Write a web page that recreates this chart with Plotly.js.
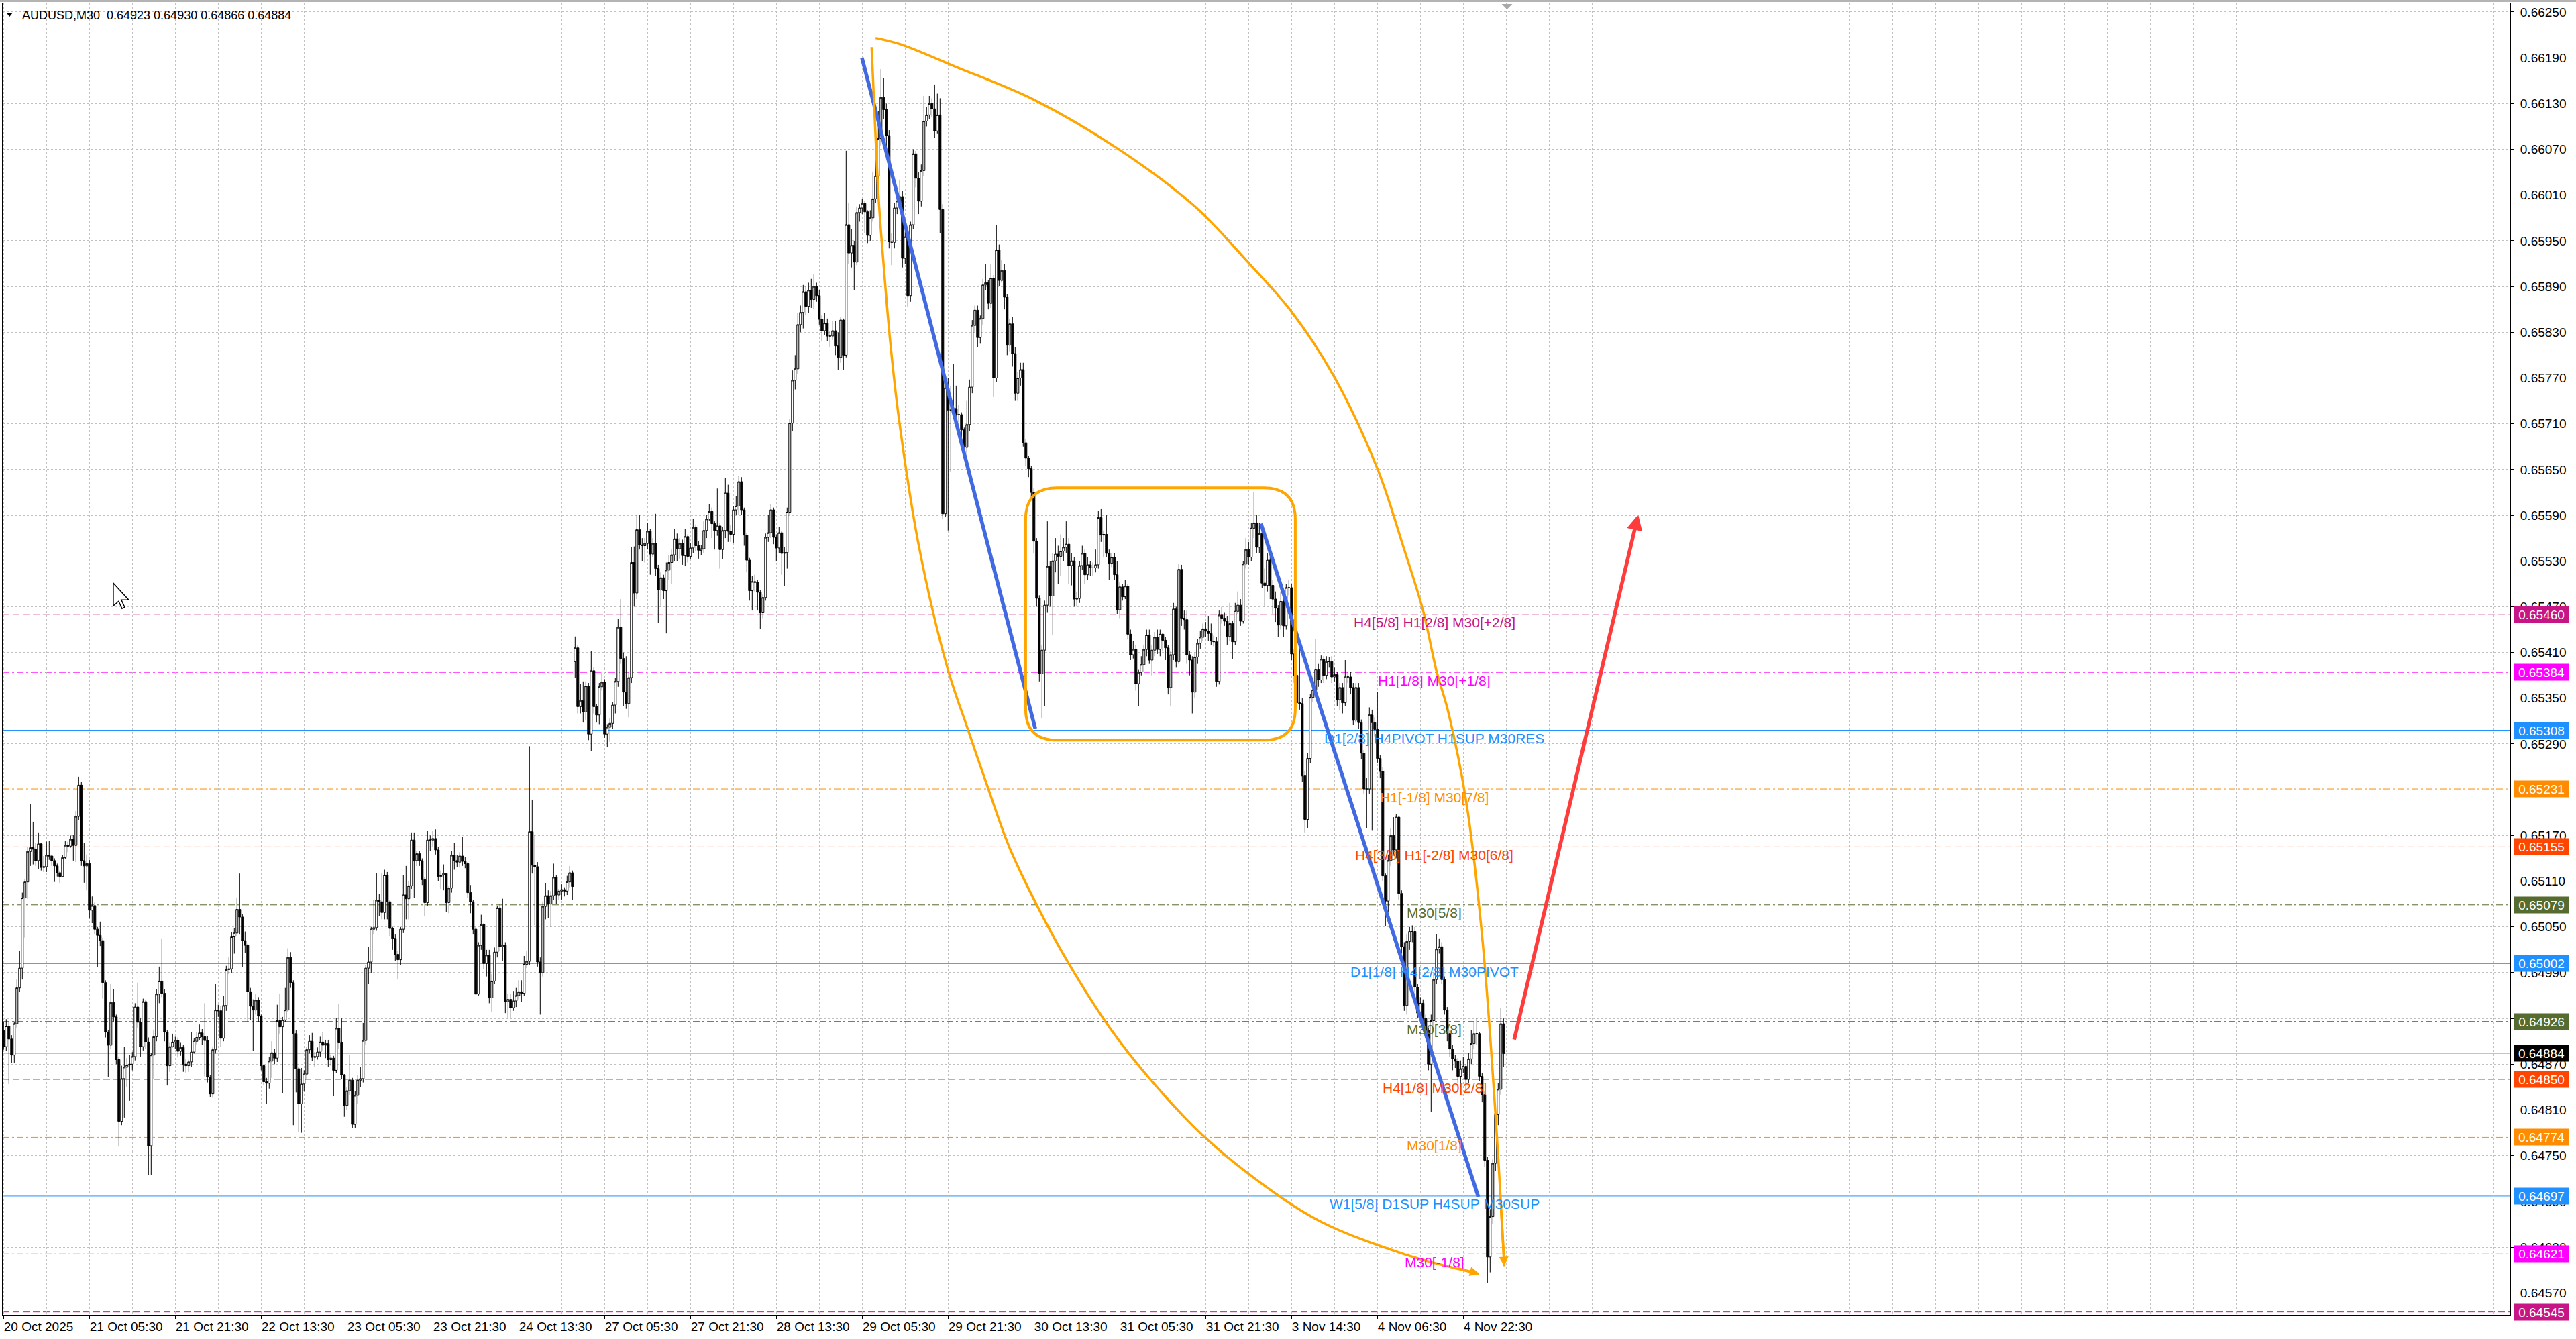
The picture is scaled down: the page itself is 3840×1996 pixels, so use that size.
<!DOCTYPE html>
<html><head><meta charset="utf-8">
<script src="https://cdn.plot.ly/plotly-3.0.1.min.js"></script>
<style>html,body{margin:0;padding:0;background:#fff;overflow:hidden}#chart{width:3840px;height:1996px}</style>
</head><body><div id="chart"></div>
<script>
// ---- data (prices in points above 0.60000, 1 point = 0.00001) ----
const SYMBOL = 'AUDUSD,M30';
const PRICE_BASE = 0.6;
const POINT = 0.00001;

const openPts = [
4914,4893,4920,4903,4882,4923,4970,4996,5088,5109,5149,5154,5152,5137,5159,5128,5129,5144,5143,5137,
5130,5121,5116,5141,5157,5156,5165,5157,5195,5236,5137,5130,5133,5072,5078,5047,5039,5032,4977,4912,
4895,4951,4932,4876,4795,4851,4866,4869,4870,4880,4945,4925,4893,4952,4899,4763,4882,4906,4962,4979,
4963,4912,4868,4893,4899,4901,4887,4892,4870,4868,4873,4886,4900,4905,4911,4906,4901,4853,4831,4889,
4941,4940,4904,4947,4994,4995,5037,5042,5073,5063,5032,5026,4965,4946,4941,4954,4933,4868,4847,4845,
4874,4885,4878,4927,4919,4928,4941,5010,4977,4910,4864,4818,4844,4857,4889,4900,4879,4880,4886,4899,
4895,4897,4876,4878,4862,4917,4898,4856,4816,4835,4849,4791,4829,4849,4851,4901,4996,5004,5047,5049,
5085,5083,5069,5118,5083,5048,5035,5014,5007,5047,5092,5087,5104,5164,5137,5146,5137,5112,5082,5164,
5164,5166,5151,5116,5118,5120,5082,5101,5144,5137,5135,5143,5136,5133,5095,5083,5047,4962,5026,5053,
5002,5013,4957,4979,5017,5075,5024,5026,4952,4955,4944,4953,4960,4965,4963,5001,5005,5175,5131,5129,
5004,4990,5077,5091,5080,5091,5115,5092,5097,5099,5097,5109,5121,5398,5416,5339,5347,5332,5366,5303,
5386,5339,5328,5365,5371,5303,5312,5317,5341,5372,5443,5402,5358,5343,5377,5528,5488,5571,5551,5550,
5553,5569,5539,5553,5520,5492,5508,5491,5518,5528,5538,5559,5546,5553,5537,5562,5536,5547,5574,5550,
5544,5546,5570,5585,5595,5579,5570,5576,5545,5570,5619,5569,5565,5597,5602,5634,5597,5564,5531,5491,
5503,5502,5489,5462,5482,5561,5567,5597,5561,5547,5567,5540,5541,5594,5711,5767,5782,5840,5856,5883,
5864,5885,5873,5890,5878,5847,5832,5842,5825,5825,5832,5812,5797,5846,5800,5971,5934,5944,5922,5987,
5993,5999,5988,5957,5980,6005,6035,6084,6138,6122,6088,5949,5948,5993,6002,6008,5927,5955,5878,5971,
6064,6032,6002,6042,6107,6115,6130,6123,6094,6115,5991,5592,5757,5728,5728,5730,5722,5722,5702,5679,
5709,5758,5839,5859,5823,5848,5892,5895,5868,5901,5770,5938,5898,5911,5876,5813,5841,5802,5750,5770,
5781,5685,5665,5651,5620,5556,5481,5382,5413,5472,5523,5484,5530,5539,5536,5543,5548,5552,5524,5530,
5480,5481,5524,5540,5512,5525,5521,5521,5525,5587,5564,5565,5540,5527,5535,5512,5466,5496,5483,5497,
5434,5407,5414,5369,5384,5394,5414,5433,5400,5413,5430,5414,5434,5426,5416,5364,5407,5467,5398,5519,
5455,5453,5407,5400,5358,5404,5422,5430,5441,5438,5435,5425,5424,5372,5459,5455,5451,5431,5448,5424,
5464,5472,5451,5526,5545,5535,5573,5580,5548,5566,5501,5498,5531,5498,5480,5468,5446,5477,5445,5495,
5495,5408,5380,5344,5343,5248,5191,5271,5351,5361,5388,5374,5401,5380,5398,5398,5378,5381,5348,5364,
5344,5378,5378,5364,5321,5364,5318,5278,5231,5231,5328,5318,5309,5271,5254,5117,5084,5137,5170,5151,
5194,5094,5024,4947,5031,5044,5044,4971,4937,4950,4930,4914,4870,4927,4981,5021,5024,4981,4941,4910,
4890,4877,4874,4854,4864,4867,4850,4877,4897,4910,4910,4854,4830,4744,4617,4670,4740,4804,4837,4923];

const highPts = [
4925,4929,4925,4908,4926,4981,5019,5095,5113,5155,5211,5188,5160,5174,5160,5143,5162,5163,5145,5140,
5133,5124,5144,5163,5162,5170,5171,5202,5247,5240,5160,5145,5138,5090,5082,5050,5057,5036,4980,4915,
4975,4968,4935,4880,4868,4893,4878,4882,4886,4950,4977,4930,4956,4955,4905,4885,4915,4968,4998,5034,
4968,4915,4898,4910,4906,4905,4898,4895,4877,4876,4912,4904,4912,4922,4916,4950,4907,4856,4892,4975,
4948,4946,4960,4999,5011,5043,5048,5088,5120,5067,5044,5028,4970,4955,4962,4958,4935,4870,4852,4880,
4900,4890,4948,4962,4932,4970,5022,5017,4980,4915,4866,4865,4862,4893,4908,4911,4886,4892,4906,4912,
4902,4902,4883,4881,4931,4949,4930,4857,4840,4882,4852,4835,4856,4866,4924,5000,5024,5050,5085,5121,
5093,5120,5125,5122,5085,5050,5040,5018,5050,5118,5130,5110,5174,5174,5150,5150,5140,5115,5176,5170,
5176,5178,5155,5124,5132,5120,5104,5150,5160,5144,5148,5168,5142,5135,5105,5085,5050,5030,5066,5055,
5020,5020,4988,5023,5078,5080,5087,5030,4962,4962,4966,4970,4980,4980,5012,5018,5287,5217,5170,5135,
5010,5083,5107,5098,5097,5133,5118,5100,5106,5102,5117,5130,5124,5431,5420,5369,5372,5372,5370,5412,
5390,5342,5370,5384,5375,5316,5324,5345,5377,5454,5480,5410,5405,5384,5548,5549,5590,5590,5560,5560,
5580,5572,5560,5592,5525,5515,5512,5528,5538,5545,5572,5566,5560,5558,5572,5565,5554,5585,5578,5556,
5551,5582,5590,5605,5600,5582,5625,5580,5575,5639,5630,5577,5602,5615,5642,5640,5600,5567,5534,5510,
5512,5505,5492,5486,5566,5590,5605,5600,5565,5575,5570,5548,5600,5716,5780,5800,5855,5865,5892,5890,
5895,5900,5906,5895,5885,5852,5855,5848,5832,5845,5845,5830,5850,5848,6068,6000,5965,5950,5995,5998,
6005,6002,5990,5990,6040,6065,6120,6175,6163,6130,6095,5960,6000,6010,6030,6015,5962,5960,5975,6070,
6068,6040,6050,6140,6125,6140,6137,6155,6143,6137,5998,5765,5770,5760,5788,5760,5735,5725,5705,5740,
5768,5846,5865,5865,5852,5900,5920,5898,5920,5905,5971,5945,5925,5920,5880,5848,5850,5810,5778,5790,
5790,5690,5668,5655,5625,5560,5485,5420,5478,5582,5530,5540,5560,5550,5565,5560,5582,5560,5540,5535,
5490,5530,5550,5545,5535,5530,5528,5545,5596,5598,5570,5590,5545,5540,5540,5530,5502,5500,5505,5500,
5440,5425,5420,5388,5405,5420,5440,5440,5420,5437,5440,5440,5436,5430,5420,5412,5475,5470,5526,5525,
5465,5465,5412,5405,5410,5428,5438,5448,5450,5458,5448,5432,5430,5465,5470,5462,5458,5475,5452,5475,
5490,5480,5530,5560,5555,5580,5621,5590,5580,5570,5520,5540,5535,5505,5490,5472,5490,5480,5500,5505,
5500,5415,5395,5415,5350,5255,5278,5356,5370,5428,5395,5406,5405,5405,5404,5405,5390,5385,5370,5370,
5400,5385,5385,5370,5370,5370,5322,5282,5245,5338,5335,5325,5358,5275,5260,5120,5145,5180,5194,5198,
5196,5098,5030,5040,5050,5052,5050,4975,4958,4955,4935,4918,4935,4990,5041,5035,5030,4985,4945,4915,
4895,4882,4878,4875,4880,4870,4885,4915,4925,4930,4912,4858,4835,4748,4680,4745,4810,4845,4944,4930];

const lowPts = [
4889,4887,4844,4872,4872,4918,4965,4981,5036,5087,5130,5132,5130,5126,5124,5122,5122,5138,5130,5109,
5116,5107,5115,5139,5148,5154,5137,5135,5190,5130,5108,5098,5061,5055,5040,4997,5025,4956,4905,4853,
4890,4925,4870,4762,4790,4800,4840,4822,4862,4875,4918,4880,4888,4890,4725,4725,4850,4900,4950,4958,
4900,4842,4860,4892,4890,4880,4881,4860,4859,4860,4866,4884,4896,4902,4895,4854,4846,4827,4826,4884,
4932,4893,4900,4940,4988,4990,5015,5038,5040,4997,5016,4925,4928,4887,4935,4925,4862,4842,4818,4838,
4852,4870,4873,4910,4832,4925,4938,4970,4790,4833,4781,4780,4834,4850,4884,4874,4866,4876,4880,4888,
4878,4866,4868,4828,4858,4890,4850,4801,4810,4830,4786,4786,4818,4840,4846,4896,4975,4990,5040,5045,
5064,5060,5060,5060,5038,5020,5005,4981,5000,5042,5060,5060,5100,5088,5130,5130,5105,5064,5078,5150,
5155,5145,5110,5100,5098,5070,5068,5095,5125,5129,5128,5130,5127,5088,5068,5040,4962,4960,5020,4995,
4985,4950,4939,4975,5010,5018,5005,4937,4930,4930,4940,4945,4955,4952,4960,4996,5000,5120,5052,4998,
4935,4985,5060,5062,5050,5085,5080,5085,5085,5090,5092,5102,5085,5377,5330,5330,5318,5322,5295,5281,
5330,5318,5316,5360,5298,5286,5293,5310,5330,5365,5395,5340,5336,5325,5370,5470,5480,5545,5530,5528,
5545,5512,5535,5510,5449,5470,5480,5435,5505,5500,5530,5530,5533,5525,5524,5528,5532,5540,5543,5533,
5538,5540,5560,5583,5560,5545,5563,5520,5532,5560,5555,5555,5554,5590,5590,5590,5550,5515,5478,5465,
5490,5465,5441,5455,5478,5555,5560,5552,5530,5540,5512,5497,5520,5590,5700,5755,5775,5830,5835,5852,
5855,5862,5860,5870,5840,5818,5826,5818,5810,5820,5800,5781,5790,5781,5797,5920,5915,5885,5918,5975,
5985,5960,5947,5950,5975,6000,6030,6075,6110,6072,5940,5918,5940,5985,5995,5915,5920,5863,5870,5965,
6020,5985,5995,6035,6100,6110,6112,6085,6090,5960,5585,5588,5570,5647,5722,5715,5712,5682,5672,5672,
5700,5750,5830,5810,5815,5840,5885,5860,5862,5745,5765,5890,5895,5860,5800,5805,5785,5740,5740,5760,
5680,5655,5640,5610,5540,5470,5372,5324,5340,5462,5470,5433,5515,5500,5510,5530,5540,5500,5498,5470,
5470,5475,5518,5500,5505,5510,5510,5515,5520,5555,5535,5535,5505,5522,5505,5460,5455,5478,5480,5427,
5400,5402,5360,5340,5380,5385,5405,5395,5380,5405,5408,5405,5412,5400,5355,5340,5400,5390,5395,5445,
5440,5395,5380,5330,5350,5395,5415,5425,5430,5425,5420,5418,5365,5368,5448,5445,5420,5425,5401,5420,
5460,5445,5448,5520,5525,5530,5560,5540,5540,5495,5470,5490,5480,5460,5450,5430,5440,5430,5440,5485,
5400,5370,5338,5335,5240,5174,5180,5265,5345,5355,5365,5370,5370,5375,5390,5370,5372,5340,5335,5330,
5340,5370,5355,5315,5318,5310,5270,5225,5180,5225,5177,5300,5265,5245,5110,5051,5070,5130,5145,5140,
5085,5015,4940,4935,5020,5030,4965,4930,4930,4922,4905,4862,4807,4920,4975,5015,4975,4935,4900,4880,
4862,4865,4845,4840,4858,4835,4845,4870,4890,4895,4848,4820,4735,4583,4597,4660,4730,4790,4830,4866];

const closePts = [
4893,4920,4903,4882,4923,4970,4996,5088,5109,5149,5154,5152,5137,5159,5128,5129,5144,5143,5137,5130,
5121,5116,5141,5157,5156,5165,5157,5195,5236,5137,5130,5133,5072,5078,5047,5039,5032,4977,4912,4895,
4951,4932,4876,4795,4851,4866,4869,4870,4880,4945,4925,4893,4952,4899,4763,4882,4906,4962,4979,4963,
4912,4868,4893,4899,4901,4887,4892,4870,4868,4873,4886,4900,4905,4911,4906,4901,4853,4831,4889,4941,
4940,4904,4947,4994,4995,5037,5042,5073,5063,5032,5026,4965,4946,4941,4954,4933,4868,4847,4845,4874,
4885,4878,4927,4919,4928,4941,5010,4977,4910,4864,4818,4844,4857,4889,4900,4879,4880,4886,4899,4895,
4897,4876,4878,4862,4917,4898,4856,4816,4835,4849,4791,4829,4849,4851,4901,4996,5004,5047,5049,5085,
5083,5069,5118,5083,5048,5035,5014,5007,5047,5092,5087,5104,5164,5137,5146,5137,5112,5082,5164,5164,
5166,5151,5116,5118,5120,5082,5101,5144,5137,5135,5143,5136,5133,5095,5083,5047,4962,5026,5053,5002,
5013,4957,4979,5017,5075,5024,5026,4952,4955,4944,4953,4960,4965,4963,5001,5005,5175,5131,5129,5004,
4990,5077,5091,5080,5091,5115,5092,5097,5099,5097,5109,5121,5103,5416,5339,5347,5332,5366,5303,5386,
5339,5328,5365,5371,5303,5312,5317,5341,5372,5443,5402,5358,5343,5377,5528,5488,5571,5551,5550,5553,
5569,5539,5553,5520,5492,5508,5491,5518,5528,5538,5559,5546,5553,5537,5562,5536,5547,5574,5550,5544,
5546,5570,5585,5595,5579,5570,5576,5545,5570,5619,5569,5565,5597,5602,5634,5597,5564,5531,5491,5503,
5502,5489,5462,5482,5561,5567,5597,5561,5547,5567,5540,5541,5594,5711,5767,5782,5840,5856,5883,5864,
5885,5873,5890,5878,5847,5832,5842,5825,5825,5832,5812,5797,5846,5800,5971,5934,5944,5922,5987,5993,
5999,5988,5957,5980,6005,6035,6084,6138,6122,6088,5949,5948,5993,6002,6008,5927,5955,5878,5971,6064,
6032,6002,6042,6107,6115,6130,6123,6094,6115,5991,5592,5757,5728,5728,5730,5722,5722,5702,5679,5709,
5758,5839,5859,5823,5848,5892,5895,5868,5901,5770,5938,5898,5911,5876,5813,5841,5802,5750,5770,5781,
5685,5665,5651,5620,5556,5481,5382,5413,5472,5523,5484,5530,5539,5536,5543,5548,5552,5524,5530,5480,
5481,5524,5540,5512,5525,5521,5521,5525,5587,5564,5565,5540,5527,5535,5512,5466,5496,5483,5497,5434,
5407,5414,5369,5384,5394,5414,5433,5400,5413,5430,5414,5434,5426,5416,5364,5407,5467,5398,5519,5455,
5453,5407,5400,5358,5404,5422,5430,5441,5438,5435,5425,5424,5372,5459,5455,5451,5431,5448,5424,5464,
5472,5451,5526,5545,5535,5573,5580,5548,5566,5501,5498,5531,5498,5480,5468,5446,5477,5445,5495,5495,
5408,5380,5344,5343,5248,5191,5271,5351,5361,5388,5374,5401,5380,5398,5398,5378,5381,5348,5364,5344,
5378,5378,5364,5321,5364,5318,5278,5231,5231,5328,5318,5309,5271,5254,5117,5084,5137,5170,5151,5194,
5094,5024,4947,5031,5044,5044,4971,4937,4950,4930,4914,4870,4927,4981,5021,5024,4981,4941,4910,4890,
4877,4874,4854,4864,4867,4850,4877,4897,4910,4910,4854,4830,4744,4617,4670,4740,4804,4837,4923,4884];

// time-axis labels (bar index -> label)
const tickBars = [0,32,64,96,128,160,192,224,256,288,320,352,384,416,448,480,512,544];
const tickLabels = ['20 Oct 2025','21 Oct 05:30','21 Oct 21:30','22 Oct 13:30','23 Oct 05:30','23 Oct 21:30',
  '24 Oct 13:30','27 Oct 05:30','27 Oct 21:30','28 Oct 13:30','29 Oct 05:30','29 Oct 21:30','30 Oct 13:30',
  '31 Oct 05:30','31 Oct 21:30','3 Nov 14:30','4 Nov 06:30','4 Nov 22:30'];

// Murrey / pivot levels
const levelPrices = [0.65460,0.65384,0.65308,0.65231,0.65155,0.65079,0.65002,0.64926,0.64850,0.64774,0.64697,0.64621,0.64545];
const levelTexts = ['H4[5/8] H1[2/8] M30[+2/8]','H1[1/8] M30[+1/8]','D1[2/8] H4PIVOT H1SUP M30RES','H1[-1/8] M30[7/8]',
  'H4[3/8] H1[-2/8] M30[6/8]','M30[5/8]','D1[1/8] H4[2/8] M30PIVOT','M30[3/8]','H4[1/8] M30[2/8]','M30[1/8]',
  'W1[5/8] D1SUP H4SUP M30SUP','M30[-1/8]',''];
const levelColors = ['#C71585','#FF00FF','#1E90FF','#FF8C00','#FF4500','#556B2F','#1E90FF','#556B2F','#FF4500','#FF8C00','#1E90FF','#FF00FF','#C71585'];
const levelStyles = ['dash','dashdot','solid','dashdot','dash','dashdot','solid','dashdot','dash','dashdot','solid','dashdot','dash'];
const levelTextBar = 533.2;

// drawings (bar index, price)
const blueLine1Bars = [319.9, 384.5];
const blueLine1Prices = [0.66190, 0.65310];
const blueLine2Bars = [468.6, 549.6];
const blueLine2Prices = [0.65579, 0.64696];
const outerArcBars = [325,334,355,384,416,444,464,480,496,512,522,529,534,538.4,545.2,551.2,556.2,559.3];
const outerArcPrices = [0.66216,0.66208,0.66178,0.66135,0.66069,0.65995,0.65921,0.65857,0.65771,0.65651,0.65545,0.65465,0.65386,0.65332,0.65212,0.65031,0.64793,0.64605];
const innerArcBars = [323.5,324.9,326.2,327.9,330.4,333.7,341.2,351.9,359.3,367.1,374.9,385.9,396.8,412.4,428.1,446.8,467.1,490.6,521.8,549.9];
const innerArcPrices = [0.66204,0.66092,0.66001,0.65922,0.65819,0.65716,0.65548,0.65388,0.65310,0.65230,0.65154,0.65073,0.65003,0.64917,0.64847,0.64777,0.64718,0.64664,0.64621,0.64595];
const rangeBoxBars = [380.9, 481.4];
const rangeBoxPrices = [0.65295, 0.65626];
const redArrowBars = [562.9, 609.2];
const redArrowPrices = [0.64901, 0.65591];
const shiftMarkerBar = 560.3;
const cursorBar = 40.9, cursorPrice = 0.65501;

// ---- build ----
const toPrice = v => +(PRICE_BASE + v * POINT).toFixed(5);
const N = closePts.length;
const bars = closePts.map((_, i) => i);
const O = openPts.map(toPrice), H = highPts.map(toPrice), L = lowPts.map(toPrice), C = closePts.map(toPrice);
const lastClose = C[N - 1];

const FONT = 'Liberation Sans, Arial, sans-serif';
const ORANGE = '#FFA500';
const BLUE = '#4169E1';
const dashMap = {dash: '10px,5px', dashdot: '10px,4px,3px,4px', solid: 'solid'};

const traces = [
  {type: 'candlestick', x: bars, open: O, high: H, low: L, close: C,
   increasing: {line: {color: '#000', width: 1}, fillcolor: '#FFFFFF'},
   decreasing: {line: {color: '#000', width: 1}, fillcolor: '#000000'},
   whiskerwidth: 0, hoverinfo: 'skip', showlegend: false, xaxis: 'x', yaxis: 'y'},
  {type: 'scatter', mode: 'lines', x: blueLine1Bars, y: blueLine1Prices, line: {color: BLUE, width: 5.5}, hoverinfo: 'skip', showlegend: false},
  {type: 'scatter', mode: 'lines', x: blueLine2Bars, y: blueLine2Prices, line: {color: BLUE, width: 5.5}, hoverinfo: 'skip', showlegend: false},
  {type: 'scatter', mode: 'lines', x: outerArcBars, y: outerArcPrices, line: {color: ORANGE, width: 3.5, shape: 'spline', smoothing: 1}, hoverinfo: 'skip', showlegend: false},
  {type: 'scatter', mode: 'lines', x: innerArcBars, y: innerArcPrices, line: {color: ORANGE, width: 3.5, shape: 'spline', smoothing: 1}, hoverinfo: 'skip', showlegend: false},
  {type: 'scatter', mode: 'markers', x: [], y: [], xaxis: 'x2', yaxis: 'y', hoverinfo: 'skip', showlegend: false}
];

const shapes = [];
const annotations = [];

levelPrices.forEach((p, i) => {
  shapes.push({type: 'line', xref: 'paper', x0: 0, x1: 1, yref: 'y', y0: p, y1: p, layer: 'between',
    line: {color: levelColors[i], width: 1, dash: dashMap[levelStyles[i]]}});
  if (levelTexts[i]) {
    annotations.push({xref: 'x', yref: 'y', x: levelTextBar, y: p, yshift: -12, xanchor: 'center', yanchor: 'middle',
      text: levelTexts[i], showarrow: false, font: {family: FONT, size: 21, color: levelColors[i]}});
  }
  annotations.push({xref: 'paper', x: 1, xanchor: 'left', xshift: 5, yref: 'y', y: p, yanchor: 'middle',
    text: p.toFixed(5), showarrow: false, bgcolor: levelColors[i], borderpad: 0, width: 81, height: 24, align: 'center',
    font: {family: FONT, size: 19, color: '#FFFFFF'}});
});
// current price line + label
shapes.push({type: 'line', xref: 'paper', x0: 0, x1: 1, yref: 'y', y0: lastClose, y1: lastClose, layer: 'between',
  line: {color: '#C0C0C0', width: 1}});
annotations.push({xref: 'paper', x: 1, xanchor: 'left', xshift: 5, yref: 'y', y: lastClose, yanchor: 'middle',
  text: lastClose.toFixed(5), showarrow: false, bgcolor: '#000000', borderpad: 0, width: 81, height: 24, align: 'center',
  font: {family: FONT, size: 19, color: '#FFFFFF'}});

// rounded range rectangle
{
  const [x0, x1] = rangeBoxBars, [y0, y1] = rangeBoxPrices;
  const rx = 11.8, ry = 0.00041;
  const path = `M${x0 + rx},${y1} L${x1 - rx},${y1} Q${x1},${y1} ${x1},${y1 - ry} L${x1},${y0 + ry} Q${x1},${y0} ${x1 - rx},${y0} ` +
    `L${x0 + rx},${y0} Q${x0},${y0} ${x0},${y0 + ry} L${x0},${y1 - ry} Q${x0},${y1} ${x0 + rx},${y1} Z`;
  shapes.push({type: 'path', xref: 'x', yref: 'y', path, line: {color: ORANGE, width: 4}, fillcolor: 'rgba(0,0,0,0)', layer: 'above'});
}
// window top border band
shapes.push({type: 'rect', xref: 'paper', x0: -0.002, x1: 1.03, yref: 'paper', ysizemode: 'pixel', yanchor: 1, y0: 2, y1: 6,
  fillcolor: '#B4B4B4', line: {width: 0}});
// chart shift marker
shapes.push({type: 'path', xref: 'x', xsizemode: 'pixel', xanchor: shiftMarkerBar, yref: 'paper', ysizemode: 'pixel', yanchor: 1,
  path: 'M-8,-1 L8,-1 L0,-9 Z', fillcolor: '#A9A9A9', line: {width: 0}});
// header triangle
shapes.push({type: 'path', xref: 'paper', xsizemode: 'pixel', xanchor: 0, yref: 'paper', ysizemode: 'pixel', yanchor: 1,
  path: 'M5.5,-14 L15,-14 L10.25,-20 Z', fillcolor: '#000', line: {width: 0}});
// mouse cursor
shapes.push({type: 'path', xref: 'x', yref: 'y', xsizemode: 'pixel', ysizemode: 'pixel', xanchor: cursorBar, yanchor: cursorPrice,
  path: 'M0,0 L0,-34 L8,-27 L13,-38 L17,-36 L12,-25 L23,-25 Z', fillcolor: '#FFFFFF', line: {color: '#000', width: 1.5}, layer: 'above'});

// arrows
annotations.push({xref: 'x', yref: 'y', x: redArrowBars[1], y: redArrowPrices[1], axref: 'x', ayref: 'y',
  ax: redArrowBars[0], ay: redArrowPrices[0], text: '', showarrow: true, arrowhead: 2, arrowsize: 0.85, arrowwidth: 5.5, arrowcolor: '#FF3C3C', standoff: 0});
{
  const n = outerArcBars.length;
  annotations.push({xref: 'x', yref: 'y', x: outerArcBars[n - 1], y: outerArcPrices[n - 1], axref: 'x', ayref: 'y',
    ax: outerArcBars[n - 2] + 0.6 * (outerArcBars[n - 1] - outerArcBars[n - 2]), ay: outerArcPrices[n - 2] + 0.6 * (outerArcPrices[n - 1] - outerArcPrices[n - 2]),
    text: '', showarrow: true, arrowhead: 2, arrowsize: 0.8, arrowwidth: 3.5, arrowcolor: ORANGE, standoff: 0});
  const m = innerArcBars.length;
  annotations.push({xref: 'x', yref: 'y', x: innerArcBars[m - 1], y: innerArcPrices[m - 1], axref: 'x', ayref: 'y',
    ax: innerArcBars[m - 2] + 0.7 * (innerArcBars[m - 1] - innerArcBars[m - 2]), ay: innerArcPrices[m - 2] + 0.7 * (innerArcPrices[m - 1] - innerArcPrices[m - 2]),
    text: '', showarrow: true, arrowhead: 2, arrowsize: 0.8, arrowwidth: 3.5, arrowcolor: ORANGE, standoff: 0});
}
// header text
annotations.push({xref: 'paper', yref: 'paper', x: 0, y: 1, xanchor: 'left', yanchor: 'middle', xshift: 27, yshift: -18,
  text: `${SYMBOL}\u00a0\u00a0${O[N - 1].toFixed(5)} ${H[N - 1].toFixed(5)} ${L[N - 1].toFixed(5)} ${C[N - 1].toFixed(5)}`,
  showarrow: false, font: {family: FONT, size: 18, color: '#000'}});

const xRange = [-0.325, 934.175];
const layout = {
  width: 3840, height: 1996,
  margin: {l: 4, r: 98, t: 5, b: 36, pad: 0},
  paper_bgcolor: '#FFFFFF', plot_bgcolor: '#FFFFFF',
  font: {family: FONT, size: 19, color: '#000'},
  showlegend: false,
  boxgap: 0.25, boxgroupgap: 0,
  xaxis: {range: xRange, tickmode: 'linear', tick0: 0, dtick: 16, showticklabels: false, ticks: '',
    showgrid: true, gridcolor: '#C0C0C0', griddash: '3px,3px', gridwidth: 1, zeroline: false,
    showline: true, linecolor: '#000', linewidth: 1, mirror: true, rangeslider: {visible: false}, fixedrange: true},
  xaxis2: {range: xRange, overlaying: 'x', anchor: 'y', side: 'bottom', tickmode: 'array', tickvals: tickBars, ticktext: tickLabels,
    showgrid: false, zeroline: false, showline: false, ticks: 'outside', ticklen: 5, tickcolor: '#000',
    ticklabelposition: 'outside right', tickfont: {family: FONT, size: 19, color: '#000'}, fixedrange: true},
  yaxis: {side: 'right', range: [0.645412, 0.662614], tickmode: 'linear', tick0: 0.6625, dtick: 0.0006, tickformat: '.5f',
    showgrid: true, gridcolor: '#C0C0C0', griddash: '3px,3px', zeroline: false,
    showline: true, linecolor: '#000', linewidth: 1, mirror: true, ticks: 'outside', ticklen: 4, tickcolor: '#000',
    ticklabelstandoff: 6, tickfont: {family: FONT, size: 19, color: '#000'}, fixedrange: true},
  shapes, annotations
};

Plotly.newPlot('chart', traces, layout, {staticPlot: true, displayModeBar: false});
</script></body></html>
